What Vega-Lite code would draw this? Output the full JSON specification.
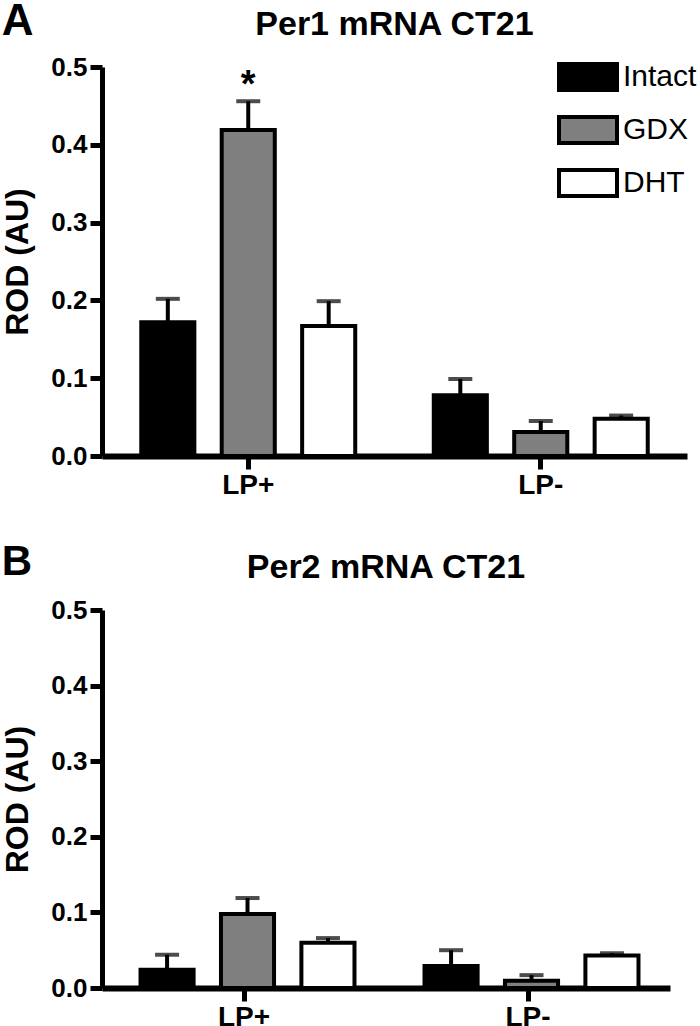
{
  "$schema": "https://vega.github.io/schema/vega-lite/v6.json",
  "padding": {"left": 1, "top": 0, "right": 0, "bottom": 0},
  "background": "white",
  "spacing": 42,
  "config": {
    "font": "Liberation Sans",
    "view": {"stroke": null},
    "title": {"font": "Liberation Sans", "fontWeight": "bold", "color": "black"},
    "axis": {
      "domainColor": "black", "tickColor": "black", "labelColor": "black", "titleColor": "black",
      "grid": false, "labelFont": "Liberation Sans", "titleFont": "Liberation Sans",
      "labelFontWeight": "bold", "titleFontWeight": "bold"
    },
    "axisY": {"domainWidth": 5, "tickWidth": 5, "tickSize": 12, "labelFontSize": 26, "labelPadding": 3, "titleFontSize": 32, "titlePadding": 16},
    "axisX": {"domainWidth": 6, "tickWidth": 5, "tickSize": 13, "labelFontSize": 28, "labelAngle": 0, "labelPadding": 2}
  },
  "datasets": {
    "per1": [
      {"group": "LP+", "treatment": "Intact", "mean": 0.172, "upper": 0.202, "sig": ""},
      {"group": "LP+", "treatment": "GDX", "mean": 0.419, "upper": 0.456, "sig": "*"},
      {"group": "LP+", "treatment": "DHT", "mean": 0.167, "upper": 0.199, "sig": ""},
      {"group": "LP-", "treatment": "Intact", "mean": 0.078, "upper": 0.099, "sig": ""},
      {"group": "LP-", "treatment": "GDX", "mean": 0.031, "upper": 0.045, "sig": ""},
      {"group": "LP-", "treatment": "DHT", "mean": 0.048, "upper": 0.052, "sig": ""}
    ],
    "per2": [
      {"group": "LP+", "treatment": "Intact", "mean": 0.024, "upper": 0.044, "sig": ""},
      {"group": "LP+", "treatment": "GDX", "mean": 0.098, "upper": 0.119, "sig": ""},
      {"group": "LP+", "treatment": "DHT", "mean": 0.060, "upper": 0.066, "sig": ""},
      {"group": "LP-", "treatment": "Intact", "mean": 0.029, "upper": 0.050, "sig": ""},
      {"group": "LP-", "treatment": "GDX", "mean": 0.0095, "upper": 0.017, "sig": ""},
      {"group": "LP-", "treatment": "DHT", "mean": 0.043, "upper": 0.046, "sig": ""}
    ]
  },
  "vconcat": [
    {
      "title": {"text": "A", "anchor": "start", "fontSize": 44, "offset": 0, "dy": 36},
      "vconcat": [
        {
          "title": {"text": "Per1 mRNA CT21", "fontSize": 34, "offset": 12},
          "width": 585,
          "height": 389,
          "data": {"name": "per1"},
          "encoding": {
            "x": {"field": "group", "type": "nominal", "sort": ["LP+", "LP-"], "scale": {"paddingInner": 0.175, "paddingOuter": 0.0875}, "axis": {"title": null}},
            "xOffset": {"field": "treatment", "type": "nominal", "sort": ["Intact", "GDX", "DHT"], "scale": {"paddingInner": 0.34, "paddingOuter": 0.17}}
          },
          "layer": [
            {
              "mark": {"type": "rule", "strokeWidth": 4, "color": "black"},
              "encoding": {
                "y": {"field": "mean", "type": "quantitative", "title": "ROD (AU)", "scale": {"domain": [0, 0.5], "nice": false}, "axis": {"values": [0, 0.1, 0.2, 0.3, 0.4, 0.5], "format": ".1f"}},
                "y2": {"field": "upper"}
              }
            },
            {
              "mark": {"type": "tick", "thickness": 4, "size": 24, "color": "black"},
              "encoding": {"y": {"field": "upper", "type": "quantitative", "title": "ROD (AU)"}}
            },
            {
              "mark": {"type": "bar", "stroke": "black", "strokeWidth": 4},
              "encoding": {
                "y": {"field": "mean", "type": "quantitative", "title": "ROD (AU)"},
                "fill": {
                  "field": "treatment", "type": "nominal", "sort": ["Intact", "GDX", "DHT"],
                  "scale": {"domain": ["Intact", "GDX", "DHT"], "range": ["#000000", "#7f7f7f", "#ffffff"]},
                  "legend": {"orient": "none", "legendX": 455, "legendY": -21, "title": null, "symbolType": "M-1,-0.45H1V0.45H-1Z", "symbolSize": 3364, "symbolStrokeColor": "black", "symbolStrokeWidth": 4, "symbolOpacity": 1, "labelFontSize": 30, "labelFont": "Liberation Sans", "labelColor": "black", "labelOffset": 4, "rowPadding": -11, "padding": 0}
                }
              }
            },
            {
              "transform": [{"filter": "datum.sig == '*'"}],
              "mark": {"type": "text", "fontSize": 38, "fontWeight": "bold", "baseline": "alphabetic", "color": "black", "dy": -4},
              "encoding": {"y": {"field": "upper", "type": "quantitative", "title": "ROD (AU)"}, "text": {"field": "sig"}}
            }
          ]
        }
      ]
    },
    {
      "title": {"text": "B", "anchor": "start", "fontSize": 42, "offset": 0, "dy": 33},
      "vconcat": [
        {
          "title": {"text": "Per2 mRNA CT21", "fontSize": 34, "offset": 12},
          "width": 568,
          "height": 378,
          "data": {"name": "per2"},
          "encoding": {
            "x": {"field": "group", "type": "nominal", "sort": ["LP+", "LP-"], "scale": {"paddingInner": 0.175, "paddingOuter": 0.0875}, "axis": {"title": null}},
            "xOffset": {"field": "treatment", "type": "nominal", "sort": ["Intact", "GDX", "DHT"], "scale": {"paddingInner": 0.34, "paddingOuter": 0.17}}
          },
          "layer": [
            {
              "mark": {"type": "rule", "strokeWidth": 4, "color": "black"},
              "encoding": {
                "y": {"field": "mean", "type": "quantitative", "title": "ROD (AU)", "scale": {"domain": [0, 0.5], "nice": false}, "axis": {"values": [0, 0.1, 0.2, 0.3, 0.4, 0.5], "format": ".1f"}},
                "y2": {"field": "upper"}
              }
            },
            {
              "mark": {"type": "tick", "thickness": 4, "size": 24, "color": "black"},
              "encoding": {"y": {"field": "upper", "type": "quantitative", "title": "ROD (AU)"}}
            },
            {
              "mark": {"type": "bar", "stroke": "black", "strokeWidth": 4},
              "encoding": {
                "y": {"field": "mean", "type": "quantitative", "title": "ROD (AU)"},
                "fill": {
                  "field": "treatment", "type": "nominal", "sort": ["Intact", "GDX", "DHT"],
                  "scale": {"domain": ["Intact", "GDX", "DHT"], "range": ["#000000", "#7f7f7f", "#ffffff"]},
                  "legend": {"orient": "none", "legendX": 455, "legendY": -21, "title": null, "symbolType": "M-1,-0.45H1V0.45H-1Z", "symbolSize": 3364, "symbolStrokeColor": "black", "symbolStrokeWidth": 4, "symbolOpacity": 1, "labelFontSize": 30, "labelFont": "Liberation Sans", "labelColor": "black", "labelOffset": 4, "rowPadding": -11, "padding": 0}
                }
              }
            }
          ]
        }
      ]
    }
  ]
}
